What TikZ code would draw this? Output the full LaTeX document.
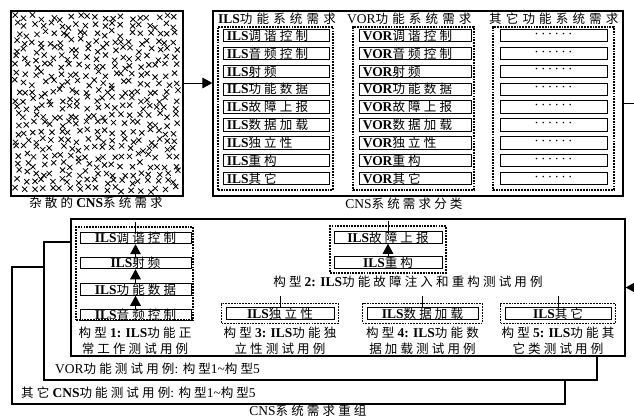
\documentclass[tikz,border=0pt]{standalone}
\usepackage{fontspec}
\setmainfont{Liberation Serif}
\newfontfamily\cjk[Scale=0.93,LetterSpace=25]{Noto Sans CJK SC}
\newfontfamily\cjkwide[Scale=0.93,LetterSpace=33]{Noto Sans CJK SC}
\usetikzlibrary{arrows.meta,fit}

\newcommand{\zh}[1]{{\cjk #1}}
\newcommand{\zhw}[1]{{\cjkwide #1}}
\newcommand{\ils}[1]{\textbf{ILS}\zh{#1}}
\newcommand{\vor}[1]{\textbf{VOR}\zh{#1}}

\tikzset{
  frame/.style={draw, line width=1.1pt, fill=white, inner sep=0pt},
  group/.style={draw, line width=.9pt, dash pattern=on 1.5pt off .9pt, inner sep=0pt},
  item/.style={draw, line width=.8pt, inner sep=0pt, minimum height=3.7mm},
  req/.style={item, anchor=west, inner xsep=1mm, text width=#1, align=left},
  cfg/.style={item, minimum height=3.3mm, minimum width=#1},
  arr/.style={-{Triangle[length=3mm,width=3.2mm]}, line width=.8pt},
  tick/.style={line width=.8pt},
  cross/.style={line width=.7pt},
  lbl/.style={inner sep=0pt, align=center}
}

\begin{document}
\begin{tikzpicture}[x=.3mm, y=-.3mm, font=\fontsize{11.5}{13.6}\selectfont]
\useasboundingbox (0,0) rectangle (634,419);

% scattered requirements
\node[frame, fit={(11,11) (183,196)}] (scatter) {};
\pgfmathsetseed{31}
\foreach \r in {0,...,21}
  \foreach \c in {0,...,18}
    \draw[cross] ({17+8.8*\c+rand*3-2.6},{17+8.2*\r+rand*3-2.6}) -- ++(5.2,5.2)
                 ++(0,-5.2) -- ++(-5.2,5.2);
\node[lbl] (scattercap) at (96,203) {\zh{杂散的}\textbf{CNS}\zh{系统需求}};

% classification
\node[frame, fit={(213,11) (623,196)}] (classify) {};
\node[lbl, anchor=west] (hils) at (218,19) {\textbf{ILS}\zhw{功能系统需求}};
\node[lbl, anchor=west] (hvor) at (347,19) {VOR\zhw{功能系统需求}};
\node[lbl, anchor=west] (hoth) at (489,19) {\zhw{其它功能系统需求}};
\node[group, fit={(218,27) (333,190)}] (gils) {};
\node[group, fit={(353,27) (474,190)}] (gvor) {};
\node[group, fit={(493,27) (614,190)}] (goth) {};
\foreach \t [count=\i] in {调谐控制,音频控制,射频,功能数据,故障上报,数据加载,独立性,重构,其它}{
  \node[req=29.8mm] (ils\i) at (223,{35.5+17.9*(\i-1)}) {\ils{\t}};
  \node[req=31.6mm] (vor\i) at (359,{35.5+17.9*(\i-1)}) {\vor{\t}};
  \node[item, minimum width=32.1mm] (oth\i) at (553.5,{35.5+17.9*(\i-1)}) {·\,·\,·\,·\,·\,·};
}
\node[lbl] (classcap) at (404,204) {CNS\zh{系统需求分类}};

\coordinate (feed) at (0,83);
\draw[arr] (scatter.east |- feed) -- (classify.west |- feed);

% regrouped test cases
\node[frame, fit={(12,267) (565,404)}] (frame3) {};
\node[lbl, anchor=west] (lab3) at (21,393) {\zh{其它}\textbf{CNS}\zh{功能测试用例}: \zh{构型}1\textasciitilde\zh{构型}5};
\node[frame, fit={(44,242) (597,380)}] (frame2) {};
\node[lbl, anchor=west] (lab2) at (55,369) {VOR\zh{功能测试用例}: \zh{构型}1\textasciitilde\zh{构型}5};
\node[frame, fit={(71,219) (625,356)}] (frame1) {};
\node[lbl] (regroupcap) at (308,411) {CNS\zh{系统需求重组}};

\draw[arr] (classify.east) -- ++(25,0) |- (frame1.east);

% type 1
\node[group, fit={(76,227) (193,320)}] (g1) {};
\node[cfg=33.3mm] (t1a) at (135.5,238) {\ils{调谐控制}};
\node[cfg=33.3mm] (t1b) at (135.5,263) {\ils{射频}};
\node[cfg=33.3mm] (t1c) at (135.5,289.5) {\ils{功能数据}};
\node[cfg=33.3mm] (t1d) at (135.5,315) {\ils{音频控制}};
\draw[arr] (t1d) -- (t1c);
\draw[arr] (t1c) -- (t1b);
\draw[arr] (t1b) -- (t1a);
\draw[tick] (t1a.north) -- ++(0,-10);
\node[lbl] (c1) at (135,341) {\zh{构型}\textbf{1: ILS}\zh{功能正}\\\zh{常工作测试用例}};

% type 2
\node[group, fit={(330,226) (446,273)}] (g2) {};
\node[cfg=32.4mm] (t2a) at (388,237.5) {\ils{故障上报}};
\node[cfg=32.4mm] (t2b) at (388,262.5) {\ils{重构}};
\draw[arr] (t2b) -- (t2a);
\draw[tick] (t2a.north) -- ++(0,-10);
\node[lbl] (c2) at (408,282) {\zh{构型}\textbf{2: ILS}\zh{功能故障注入和重构测试用例}};

% types 3 to 5
\foreach \n/\cx/\w/\t/\la/\lb in {3/280/32.4mm/独立性/功能独/立性测试用例,
    4/422.5/33.3mm/数据加载/功能数/据加载测试用例, 5/558/31.8mm/其它/功能其/它类测试用例}{
  \node[cfg=\w] (t\n) at (\cx,313.5) {\ils{\t}};
  \node[group, fit=(t\n), inner xsep=1.2mm, inner ysep=1mm] (g\n) {};
  \draw[tick] (t\n.north) -- ++(0,-11);
  \node[lbl] (c\n) at (\cx,341) {\zh{构型}\textbf{\n: ILS}\zh{\la}\\\zh{\lb}};
}
\end{tikzpicture}
\end{document}
